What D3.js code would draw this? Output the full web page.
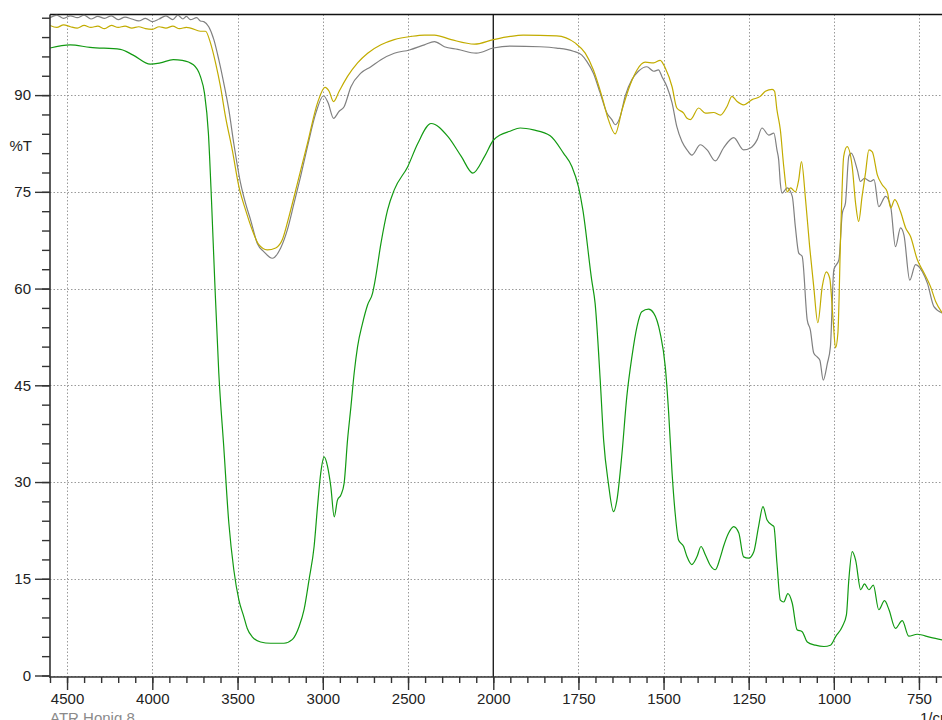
<!DOCTYPE html>
<html>
<head>
<meta charset="utf-8">
<script src="https://cdn.jsdelivr.net/npm/d3@7"></script>
<style>
  html, body { margin: 0; padding: 0; background: #fff; overflow: hidden; }
  svg { display: block; font-family: "Liberation Sans", Arial, sans-serif; }
</style>
</head>
<body>
<svg id="chart" width="942" height="720"></svg>
<script>
// ---- Data (wavenumber in 1/cm, %T) ----
const seriesGray = [
  [4600,102.0],[4560,102.4],[4520,101.9],[4480,102.3],[4440,102.0],[4400,102.4],[4360,101.8],[4320,102.2],
  [4280,101.9],[4240,102.3],[4200,101.7],[4160,102.1],[4120,101.8],[4080,101.5],[4040,101.9],[4000,101.4],
  [3960,101.8],[3920,102.3],[3880,101.7],[3850,102.4],[3820,101.8],[3800,102.2],[3776,101.7],[3740,102.0],
  [3718,101.5],[3698,101.4],[3669,100.6],[3639,98.6],[3610,95.5],[3581,91.9],[3551,87.7],[3522,82.5],
  [3482,76.3],[3453,73.2],[3424,70.7],[3384,67.0],[3345,65.7],[3296,64.7],[3247,66.3],[3208,69.1],
  [3169,73.2],[3130,77.4],[3090,82.0],[3041,87.2],[2996,89.9],[2969,88.8],[2937,86.4],[2904,87.5],
  [2875,88.2],[2835,91.3],[2777,93.4],[2718,94.4],[2659,95.5],[2581,96.5],[2492,97.0],[2404,97.8],
  [2345,98.3],[2287,97.5],[2208,97.1],[2100,96.5],[2000,97.3],[1951,97.6],[1863,97.5],[1814,97.3],
  [1765,96.8],[1740,96.2],[1725,95.2],[1706,93.4],[1686,90.3],[1666,87.2],[1652,86.2],[1642,85.4],
  [1627,86.7],[1613,89.8],[1593,92.4],[1574,93.7],[1549,94.4],[1529,93.7],[1515,93.9],[1505,92.9],
  [1490,91.3],[1475,88.8],[1461,85.1],[1446,82.8],[1431,81.5],[1417,80.7],[1392,82.3],[1372,81.5],
  [1348,79.8],[1324,81.8],[1294,83.4],[1265,81.5],[1245,81.8],[1225,83.1],[1211,84.9],[1191,83.8],
  [1176,84.1],[1167,81.5],[1162,80.0],[1157,76.3],[1152,74.8],[1137,75.6],[1122,74.3],[1113,69.6],
  [1103,65.5],[1093,65.0],[1078,55.1],[1069,53.6],[1059,50.0],[1049,49.4],[1041,48.9],[1031,45.8],
  [1019,48.4],[1010,51.0],[1000,62.9],[985,64.5],[975,71.7],[966,73.2],[956,80.5],[949,81.0],
  [931,78.4],[922,76.6],[910,77.1],[892,76.6],[882,76.9],[868,72.7],[848,74.3],[833,72.7],
  [819,66.5],[804,69.4],[794,68.3],[777,61.3],[760,63.7],[740,62.6],[725,60.8],[706,57.2],[681,56.2]
];

const seriesOlive = [
  [4600,100.8],[4560,100.5],[4520,100.9],[4480,100.6],[4440,100.4],[4400,100.8],[4360,100.5],[4320,100.7],
  [4280,100.3],[4240,100.8],[4200,100.5],[4160,100.7],[4120,100.4],[4080,100.6],[4040,100.3],[4000,100.2],
  [3960,100.6],[3920,100.4],[3880,100.7],[3840,100.3],[3800,100.5],[3776,100.4],[3718,99.9],[3688,99.9],
  [3659,98.1],[3629,95.0],[3600,91.3],[3571,86.7],[3531,81.5],[3492,75.8],[3453,72.2],[3414,69.1],
  [3375,66.8],[3326,66.0],[3276,66.3],[3237,67.6],[3198,71.2],[3149,76.3],[3090,82.5],[3031,88.8],
  [2987,91.2],[2963,90.6],[2937,89.0],[2904,90.6],[2855,92.9],[2796,95.0],[2737,96.5],[2659,97.8],
  [2581,98.6],[2482,99.1],[2404,99.3],[2345,99.3],[2247,98.6],[2110,97.9],[2000,98.6],[1951,99.1],
  [1912,99.3],[1814,99.2],[1760,98.1],[1730,96.5],[1706,93.9],[1681,89.8],[1662,86.2],[1642,84.0],
  [1622,87.7],[1598,91.6],[1578,93.9],[1554,95.1],[1529,95.0],[1510,95.4],[1495,94.2],[1475,91.3],
  [1461,88.0],[1441,87.2],[1431,86.4],[1421,86.2],[1397,88.0],[1377,87.2],[1353,87.3],[1333,86.9],
  [1314,88.2],[1299,89.8],[1284,89.0],[1265,88.5],[1240,89.3],[1216,89.8],[1201,90.6],[1181,90.9],
  [1174,90.6],[1167,87.7],[1157,84.6],[1147,78.9],[1137,75.0],[1127,75.6],[1113,75.0],[1103,76.9],
  [1095,79.7],[1083,73.8],[1071,66.5],[1059,60.3],[1047,54.7],[1034,60.3],[1022,62.6],[1012,61.6],
  [1002,55.1],[995,50.8],[988,53.1],[980,68.1],[971,80.5],[961,82.0],[946,78.9],[936,73.2],
  [927,70.4],[917,74.3],[907,77.9],[897,81.5],[887,81.2],[872,77.6],[858,76.1],[843,75.0],
  [833,72.5],[821,73.8],[804,71.9],[789,69.4],[775,68.1],[755,64.5],[735,62.4],[716,60.3],[701,58.0],[681,56.2]
];

const seriesGreen = [
  [4600,97.3],[4482,97.8],[4365,97.4],[4188,97.1],[4112,96.2],[4012,94.8],[3953,95.0],[3877,95.5],
  [3824,95.4],[3759,94.7],[3718,92.9],[3694,90.3],[3671,84.1],[3653,73.8],[3634,61.3],[3610,46.9],
  [3581,35.5],[3551,23.6],[3522,16.4],[3492,11.7],[3463,9.1],[3443,7.3],[3414,6.0],[3365,5.2],
  [3306,5.0],[3228,5.0],[3178,5.6],[3139,7.6],[3110,10.2],[3081,14.8],[3051,20.0],[3031,26.2],
  [3012,31.4],[2992,33.9],[2972,32.4],[2953,29.3],[2933,24.6],[2914,27.2],[2894,28.0],[2875,29.8],
  [2855,36.5],[2835,41.7],[2816,46.9],[2796,51.0],[2767,54.6],[2737,57.5],[2708,59.3],[2693,61.3],
  [2659,67.0],[2620,72.2],[2581,75.3],[2502,78.9],[2443,82.5],[2365,85.6],[2267,83.6],[2188,80.5],
  [2120,77.9],[2051,80.5],[2000,83.0],[1980,83.8],[1951,84.4],[1921,84.9],[1882,84.6],[1833,83.7],
  [1794,81.0],[1769,78.9],[1750,75.8],[1737,72.2],[1711,61.3],[1701,57.7],[1686,45.8],[1676,36.5],
  [1662,29.8],[1647,25.4],[1637,27.2],[1622,34.5],[1608,43.2],[1593,49.4],[1578,54.1],[1564,56.4],
  [1544,56.8],[1529,56.2],[1510,53.1],[1495,47.9],[1485,40.7],[1475,31.4],[1466,25.2],[1456,21.0],
  [1441,20.0],[1431,18.4],[1417,17.2],[1402,18.4],[1390,20.0],[1377,18.7],[1363,17.1],[1348,16.4],
  [1333,18.4],[1324,20.0],[1309,22.1],[1294,23.1],[1279,22.1],[1265,18.4],[1250,18.2],[1235,19.2],
  [1221,23.1],[1208,26.2],[1196,24.1],[1181,23.3],[1176,23.1],[1167,17.4],[1157,11.7],[1147,11.4],
  [1135,12.7],[1122,11.2],[1108,7.1],[1093,6.8],[1078,5.2],[1054,4.7],[1029,4.5],[1010,4.7],
  [995,6.0],[975,7.6],[963,9.4],[956,14.8],[946,19.2],[936,17.9],[921,13.3],[910,14.2],
  [897,13.3],[884,14.0],[868,10.2],[851,11.6],[838,10.2],[819,7.3],[799,8.5],[780,6.1],
  [755,6.4],[716,5.9],[680,5.5]
];

const xMajorTicks = [4500, 4000, 3500, 3000, 2500, 2000, 1750, 1500, 1250, 1000, 750];
const xMinorLeft = d3.range(4600, 2000, -100);
const xMinorRight = d3.range(2000, 649, -50);
const yMajorTicks = [0, 15, 30, 45, 60, 75, 90];
const yMinorTicks = d3.range(0, 103, 3);
const yLabel = "%T";
const xLabel = "1/cm";
const sampleLabel = "ATR Honig 8";

// ---- Layout ----
const svg = d3.select("#chart");
const pLeft = 50, pTop = 14.5, pRight = 953, pBottom = 675.5, axisY = 677;
const fontPx = 15;

const x = d3.scaleLinear().domain([4600, 2000, 650]).range([pLeft, 493.3, pRight]);
const y = d3.scaleLinear().domain([0, 102.5]).range([pBottom, pTop]);

svg.append("defs").append("clipPath").attr("id", "clip")
  .append("rect").attr("x", pLeft).attr("y", pTop).attr("width", pRight - pLeft).attr("height", pBottom - pTop + 1);

// Grid
const grid = svg.append("g").attr("stroke", "#9a9a9a").attr("stroke-width", 1).attr("stroke-dasharray", "1.5,2");
grid.selectAll("line.h").data(yMajorTicks).join("line")
  .attr("x1", pLeft).attr("x2", 942)
  .attr("y1", d => Math.round(y(d)) + 0.5).attr("y2", d => Math.round(y(d)) + 0.5);
grid.selectAll("line.v").data(xMajorTicks.filter(d => d !== 2000)).join("line")
  .attr("x1", d => Math.round(x(d)) + 0.5).attr("x2", d => Math.round(x(d)) + 0.5)
  .attr("y1", pTop).attr("y2", axisY);

// 2000 divider
svg.append("line")
  .attr("x1", x(2000)).attr("x2", x(2000)).attr("y1", pTop).attr("y2", axisY)
  .attr("stroke", "#222").attr("stroke-width", 1.4);

// Top border
svg.append("line").attr("x1", pLeft).attr("x2", 942).attr("y1", pTop).attr("y2", pTop)
  .attr("stroke", "#111").attr("stroke-width", 1.3);

// Lines
const line = d3.line().x(d => x(d[0])).y(d => y(d[1])).curve(d3.curveMonotoneX);
const plot = svg.append("g").attr("clip-path", "url(#clip)").attr("fill", "none").attr("stroke-width", 1.2);
plot.append("path").datum(seriesGray).attr("d", line).attr("stroke", "#808080");
plot.append("path").datum(seriesOlive).attr("d", line).attr("stroke", "#c2ac00");
plot.append("path").datum(seriesGreen).attr("d", line).attr("stroke", "#129a12");

// Y axis
const yAxisMinor = svg.append("g").attr("transform", `translate(${pLeft},0)`)
  .call(d3.axisLeft(y).tickValues(yMinorTicks).tickSize(8).tickFormat(""));
const yAxisMajor = svg.append("g").attr("transform", `translate(${pLeft},0)`)
  .call(d3.axisLeft(y).tickValues(yMajorTicks).tickSize(15).tickPadding(4).tickFormat(d3.format("d")));
[yAxisMinor, yAxisMajor].forEach(g => {
  g.select(".domain").remove();
  g.selectAll(".tick line").attr("stroke", "#333").attr("stroke-width", 1.4);
});
yAxisMajor.selectAll("text").attr("font-size", fontPx).attr("fill", "#222");
svg.append("line").attr("x1", pLeft).attr("x2", pLeft).attr("y1", pTop).attr("y2", axisY + 1)
  .attr("stroke", "#333").attr("stroke-width", 1.6);

// X axis
const xAxisMinor = svg.append("g").attr("transform", `translate(0,${axisY})`)
  .call(d3.axisBottom(x).tickValues(xMinorLeft.concat(xMinorRight)).tickSize(6).tickFormat(""));
const xAxisMajor = svg.append("g").attr("transform", `translate(0,${axisY})`)
  .call(d3.axisBottom(x).tickValues(xMajorTicks).tickSize(13).tickPadding(3).tickFormat(d3.format("d")));
[xAxisMinor, xAxisMajor].forEach(g => {
  g.select(".domain").remove();
  g.selectAll(".tick line").attr("stroke", "#333").attr("stroke-width", 1.4);
});
xAxisMajor.selectAll("text").attr("font-size", fontPx).attr("fill", "#222");
svg.append("line").attr("x1", pLeft).attr("x2", 942).attr("y1", axisY).attr("y2", axisY)
  .attr("stroke", "#333").attr("stroke-width", 1.6);

// Labels
svg.append("text").attr("x", 32).attr("y", 145).attr("text-anchor", "end").attr("dominant-baseline", "central")
  .attr("font-size", fontPx).attr("fill", "#222").text(yLabel);
svg.append("text").attr("x", 920).attr("y", 723).attr("font-size", fontPx).attr("fill", "#222").text(xLabel);
svg.append("text").attr("x", 50).attr("y", 723).attr("font-size", fontPx).attr("fill", "#8a8a8a").text(sampleLabel);
</script>
</body>
</html>
